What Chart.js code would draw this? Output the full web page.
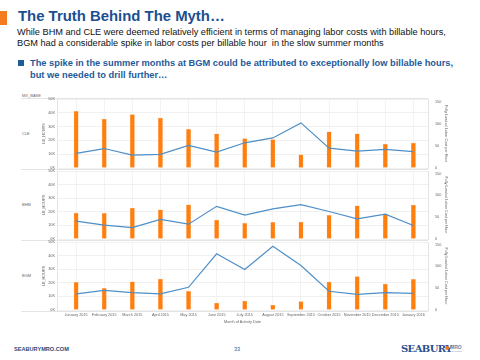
<!DOCTYPE html>
<html>
<head>
<meta charset="utf-8">
<script src="https://cdn.jsdelivr.net/npm/chart.js@4"></script>
<style>
  body { margin: 0; width: 480px; height: 360px; background: #fff; position: relative; overflow: hidden;
         font-family: Arial, "Liberation Sans", sans-serif; }
  .abs { position: absolute; white-space: nowrap; }
  .sep { position: absolute; height: 1px; background: #e4e4e4; }
  canvas { position: absolute; left: 0; }
  .small { font-size: 4px; color: #666; }
</style>
</head>
<body>
<div class="abs" style="left:0;top:11px;width:7px;height:14px;background:#f47b20"></div>
<div class="abs" style="left:18px;top:8px;font-size:14.9px;font-weight:bold;color:#1c4f8f">The Truth Behind The Myth…</div>
<div class="abs" style="left:17px;top:27px;font-size:9.2px;line-height:10.5px;color:#111">While BHM and CLE were deemed relatively efficient in terms of managing labor costs with billable hours,<br>BGM had a considerable spike in labor costs per billable hour&nbsp; in the slow summer months</div>
<div class="abs" style="left:18px;top:60px;width:6px;height:6px;background:#1f5a99"></div>
<div class="abs" style="left:30px;top:58px;font-size:9.3px;line-height:11.7px;font-weight:bold;color:#1f5a99">The spike in the summer months at BGM could be attributed to exceptionally low billable hours,<br>but we needed to drill further…</div>

<div class="abs small" style="left:22px;top:93px">MX_BASE</div>
<div class="abs small" style="left:22px;top:131px">CLE</div>
<div class="abs small" style="left:22px;top:202px">BHM</div>
<div class="abs small" style="left:22px;top:273px">BGM</div>
<div class="sep" style="left:21px;top:98px;width:407px"></div>
<div class="sep" style="left:21px;top:169px;width:407px"></div>
<div class="sep" style="left:21px;top:240px;width:407px"></div>
<div class="sep" style="left:21px;top:311px;width:407px"></div>

<canvas id="cle" width="480" height="79" style="top:94px"></canvas>
<canvas id="bhm" width="480" height="78" style="top:166px"></canvas>
<canvas id="bgm" width="480" height="87" style="top:237px"></canvas>

<div class="abs" style="left:14px;top:346px;font-size:5.6px;font-weight:bold;color:#2b4a7a">SEABURYMRO.COM</div>
<div class="abs" style="left:234px;top:346px;font-size:5.6px;color:#2b5a9a">33</div>
<div class="abs" style="left:401px;top:343px;font-size:10px;font-weight:bold;font-family:'DejaVu Serif','Liberation Serif',serif;color:#2a4f8f;letter-spacing:-0.6px">SEABURY</div>
<div class="abs" style="left:445px;top:346px;width:4px;height:4px;border-radius:2px;background:#f47b20"></div>
<div class="abs" style="left:450px;top:344px;font-size:5px;font-weight:bold;color:#6a7fa0">MRO</div>
<div class="abs" style="left:450px;top:350px;font-size:2px;color:#8a9ab0">SOLUTIONS</div>

<script>
const months = ['January 2015', 'February 2015', 'March 2015', 'April 2015', 'May 2015', 'June 2015',
  'July 2015', 'August 2015', 'September 2015', 'October 2015', 'November 2015', 'December 2015', 'January 2016'];

// LB_HOURS (bars) and fully loaded labor cost per hour (line)
const cleHours = [41000, 35500, 38700, 36200, 28000, 24800, 21300, 20600, 9600, 26200, 24800, 17400, 18100];
const cleCost = [33, 44, 29, 31, 51, 36, 57, 68, 102, 45, 38, 42, 37];
const bhmHours = [19100, 18900, 22800, 21500, 25200, 14000, 11500, 12300, 12500, 17400, 24300, 18400, 25000];
const bhmCost = [41, 32, 26, 45, 34, 75, 55, 69, 79, 63, 46, 57, 31];
const bgmHours = [20400, 16000, 20800, 22800, 13700, 5100, 6600, 3700, 6100, 20600, 24500, 19100, 22600];
const bgmCost = [37, 45, 40, 37, 52, 129, 93, 146, 102, 43, 36, 40, 38];

const hoursTicks = [0, 10000, 20000, 30000, 40000, 50000];
const costTicks = [0, 50, 100, 150];

const tickFont = { family: 'Arial, "Liberation Sans", sans-serif', size: 3.8 };

function pts(values) {
  return values.map((v, i) => { return { x: i, y: v } })
}

function setupPanel(id, hours, cost, showX, padBottom) {
  var options = {
    type: 'bar',
    data: {
      datasets: [
        {
          type: 'line',
          data: pts(cost),
          yAxisID: 'y1',
          borderColor: '#4e8fc7',
          borderWidth: 1.2,
          pointRadius: 0,
          tension: 0,
          order: 0
        },
        {
          data: pts(hours),
          yAxisID: 'y',
          backgroundColor: '#ff7f0e',
          borderColor: 'rgba(255,160,90,0.6)',
          borderWidth: 0.5,
          barThickness: 4.3,
          order: 1
        }
      ]
    },
    options: {
      responsive: false,
      animation: false,
      layout: { autoPadding: false, padding: { left: 40, right: 30, top: 5, bottom: padBottom } },
      plugins: { legend: { display: false }, tooltip: { enabled: false } },
      scales: {
        x: {
          type: 'linear',
          offset: false,
          min: -0.68,
          max: 12.52,
          afterBuildTicks: s => { s.ticks = months.map((m, i) => { return { value: i } }) },
          afterFit: s => { s.height = showX ? 14 : 0 },
          grid: { color: '#f3f3f3', drawTicks: false, offset: false },
          border: { display: false },
          ticks: {
            display: showX,
            autoSkip: false,
            maxRotation: 0,
            padding: 3,
            font: tickFont,
            color: '#666',
            callback: v => months[v]
          },
          title: {
            display: showX,
            text: 'Month of Activity Date',
            font: tickFont,
            color: '#666',
            padding: { top: 0, bottom: 0 }
          }
        },
        y: {
          position: 'left',
          min: 0,
          max: 50000,
          afterBuildTicks: s => { s.ticks = hoursTicks.map(v => { return { value: v } }) },
          afterFit: s => { s.width = 17 },
          grid: { color: '#f0f0f0', drawTicks: false },
          border: { color: '#e4e4e4' },
          ticks: { font: tickFont, color: '#666', padding: 2, callback: v => (v / 1000) + 'K' },
          title: { display: true, text: 'LB_HOURS', font: tickFont, color: '#666', padding: { top: 2, bottom: 0 } }
        },
        y1: {
          position: 'right',
          min: 0,
          max: 156,
          afterBuildTicks: s => { s.ticks = costTicks.map(v => { return { value: v } }) },
          afterFit: s => { s.width = 22 },
          grid: { display: false, drawTicks: true, tickLength: 5, tickColor: 'rgba(0,0,0,0)' },
          border: { color: '#e4e4e4' },
          ticks: { font: tickFont, color: '#666', padding: 2 },
          title: { display: true, text: 'Fully Loaded Labor Cost per Hour', font: tickFont, color: '#666', padding: { top: 2, bottom: 0 } }
        }
      }
    }
  };
  var ctx = document.getElementById(id).getContext('2d');
  return new Chart(ctx, options);
}

setupPanel('cle', cleHours, cleCost, false, 5);
setupPanel('bhm', bhmHours, bhmCost, false, 5);
setupPanel('bgm', bgmHours, bgmCost, true, 0);
</script>
</body>
</html>
